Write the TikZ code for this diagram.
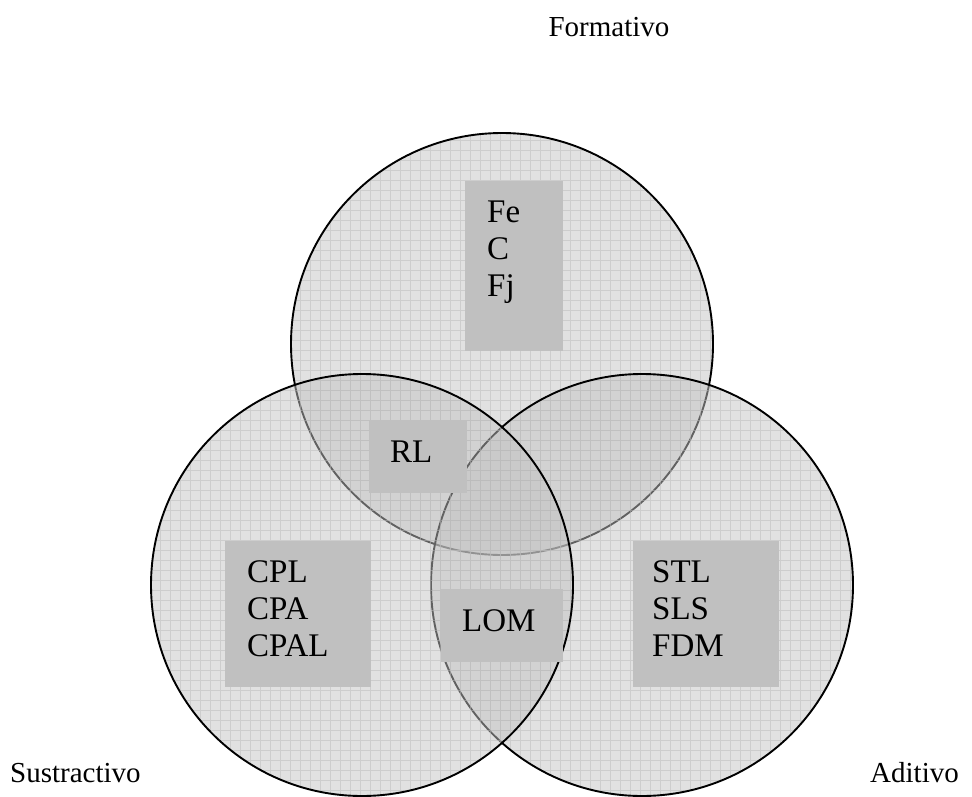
\documentclass[tikz,border=0pt]{standalone}
\usepackage{fontspec}
\setmainfont{Liberation Serif}
\begin{document}
\begin{tikzpicture}[x=1pt,y=-1pt,
  circfill/.style={fill={rgb,255:red,195;green,195;blue,195}, fill opacity=0.5},
  gridline/.style={draw={rgb,255:red,185;green,185;blue,185}, draw opacity=0.5, line width=0.8pt},
  outline/.style={draw=black, line width=1.9pt},
  box/.style={fill={rgb,255:red,192;green,192;blue,192}, draw=none, inner sep=0pt},
  lbl/.style={font=\fontsize{33}{37}\selectfont, inner sep=0pt, anchor=base west},
  outer/.style={font=\fontsize{29}{35}\selectfont, inner sep=0pt}]
\useasboundingbox (0,0) rectangle (972,797);
\coordinate (ct) at (502,344);
\coordinate (cr) at (642,585);
\coordinate (cl) at (362,585);
% top circle
\begin{scope}
  \clip (ct) circle[radius=211pt];
  \fill[circfill] (ct) circle[radius=211pt];
  \draw[gridline, step=10pt] (0,0) grid (972,797);
\end{scope}
\draw[outline] (ct) circle[radius=211pt];
% right circle
\begin{scope}
  \clip (cr) circle[radius=211pt];
  \fill[circfill] (cr) circle[radius=211pt];
  \draw[gridline, step=10pt] (0,0) grid (972,797);
\end{scope}
\draw[outline] (cr) circle[radius=211pt];
% left circle
\begin{scope}
  \clip (cl) circle[radius=211pt];
  \fill[circfill] (cl) circle[radius=211pt];
  \draw[gridline, step=10pt] (0,0) grid (972,797);
\end{scope}
\draw[outline] (cl) circle[radius=211pt];
% boxes
\node[box, minimum width=98pt, minimum height=170pt] (bfe) at (514,266) {};
\node[box, minimum width=98pt, minimum height=72pt] (brl) at (418,457) {};
\node[box, minimum width=122pt, minimum height=73pt] (blom) at (502,625.5) {};
\node[box, minimum width=146pt, minimum height=146pt] (bcpl) at (298,614) {};
\node[box, minimum width=146pt, minimum height=146pt] (bstl) at (706,614) {};
% texts
\node[lbl] (tfe) at (487,222) {Fe};
\node[lbl] (tc) at (487,259) {C};
\node[lbl] (tfj) at (487,296) {Fj};
\node[lbl] (trl) at (390,462) {RL};
\node[lbl] (tlom) at (462,631) {LOM};
\node[lbl] (tcpl) at (247,582) {CPL};
\node[lbl] (tcpa) at (247,619) {CPA};
\node[lbl] (tcpal) at (247,656) {CPAL};
\node[lbl] (tstl) at (652,582) {STL};
\node[lbl] (tsls) at (652,619) {SLS};
\node[lbl] (tfdm) at (652,656) {FDM};
% outer labels
\node[outer, anchor=base] (form) at (609,37) {Formativo};
\node[outer, anchor=base west] (sus) at (10,782) {Sustractivo};
\node[outer, anchor=base west] (adi) at (870,782) {Aditivo};
\end{tikzpicture}
\end{document}
